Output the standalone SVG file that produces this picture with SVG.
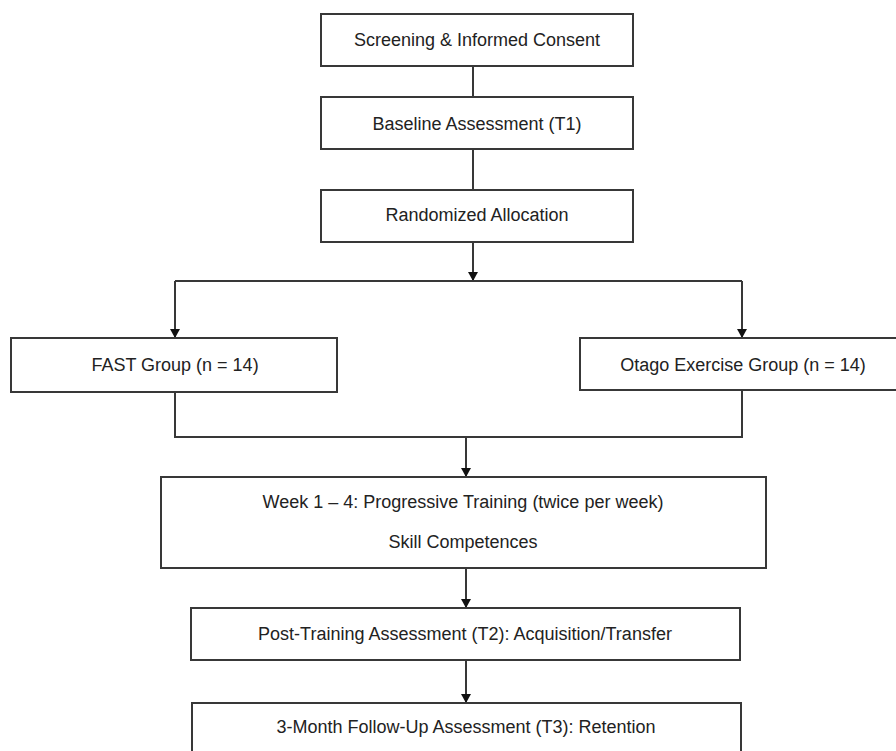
<svg xmlns="http://www.w3.org/2000/svg" width="896" height="751" viewBox="0 0 896 751">
<defs>
<style>
.box{fill:#ffffff;stroke:#383838;stroke-width:2}
.lbl{font-family:"Liberation Sans",Arial,sans-serif;font-size:18px;fill:#222222;text-anchor:middle}
.con{fill:none;stroke:#383838;stroke-width:2}
</style>
<marker id="arr" markerUnits="userSpaceOnUse" markerWidth="11" markerHeight="11" refX="9" refY="5" orient="auto">
<path d="M0,0 L9,5 L0,10 z" fill="#111"/>
</marker>
</defs>
<rect width="896" height="751" fill="#ffffff"/>
<g id="connectors">
<line class="con" x1="473" y1="66" x2="473" y2="97"/>
<line class="con" x1="473" y1="149" x2="473" y2="190"/>
<line class="con" x1="473" y1="242" x2="473" y2="281" marker-end="url(#arr)"/>
<line class="con" x1="175" y1="281" x2="742" y2="281"/>
<line class="con" x1="175" y1="281" x2="175" y2="338" marker-end="url(#arr)"/>
<line class="con" x1="742" y1="281" x2="742" y2="338" marker-end="url(#arr)"/>
<polyline class="con" points="175,392 175,437 742,437 742,390"/>
<line class="con" x1="466" y1="437" x2="466" y2="477" marker-end="url(#arr)"/>
<line class="con" x1="466" y1="568" x2="466" y2="608" marker-end="url(#arr)"/>
<line class="con" x1="466" y1="660" x2="466" y2="703" marker-end="url(#arr)"/>
</g>
<g id="screening">
<rect class="box" x="321" y="14" width="312" height="52"/>
<text class="lbl" x="477" y="46">Screening &amp; Informed Consent</text>
</g>
<g id="baseline">
<rect class="box" x="321" y="97" width="312" height="52"/>
<text class="lbl" x="477" y="130">Baseline Assessment (T1)</text>
</g>
<g id="randomized">
<rect class="box" x="321" y="190" width="312" height="52"/>
<text class="lbl" x="477" y="221">Randomized Allocation</text>
</g>
<g id="fast">
<rect class="box" x="11" y="338" width="326" height="54"/>
<text class="lbl" x="175" y="371">FAST Group (n = 14)</text>
</g>
<g id="otago">
<rect class="box" x="580" y="338" width="330" height="52"/>
<text class="lbl" x="743" y="371">Otago Exercise Group (n = 14)</text>
</g>
<g id="training">
<rect class="box" x="161" y="477" width="605" height="91"/>
<text class="lbl" x="463" y="508">Week 1 – 4: Progressive Training (twice per week)</text>
<text class="lbl" x="463" y="548">Skill Competences</text>
</g>
<g id="post">
<rect class="box" x="191" y="608" width="549" height="52"/>
<text class="lbl" x="465" y="640">Post-Training Assessment (T2): Acquisition/Transfer</text>
</g>
<g id="followup">
<rect class="box" x="192" y="703" width="549" height="60"/>
<text class="lbl" x="466" y="733">3-Month Follow-Up Assessment (T3): Retention</text>
</g>
</svg>
